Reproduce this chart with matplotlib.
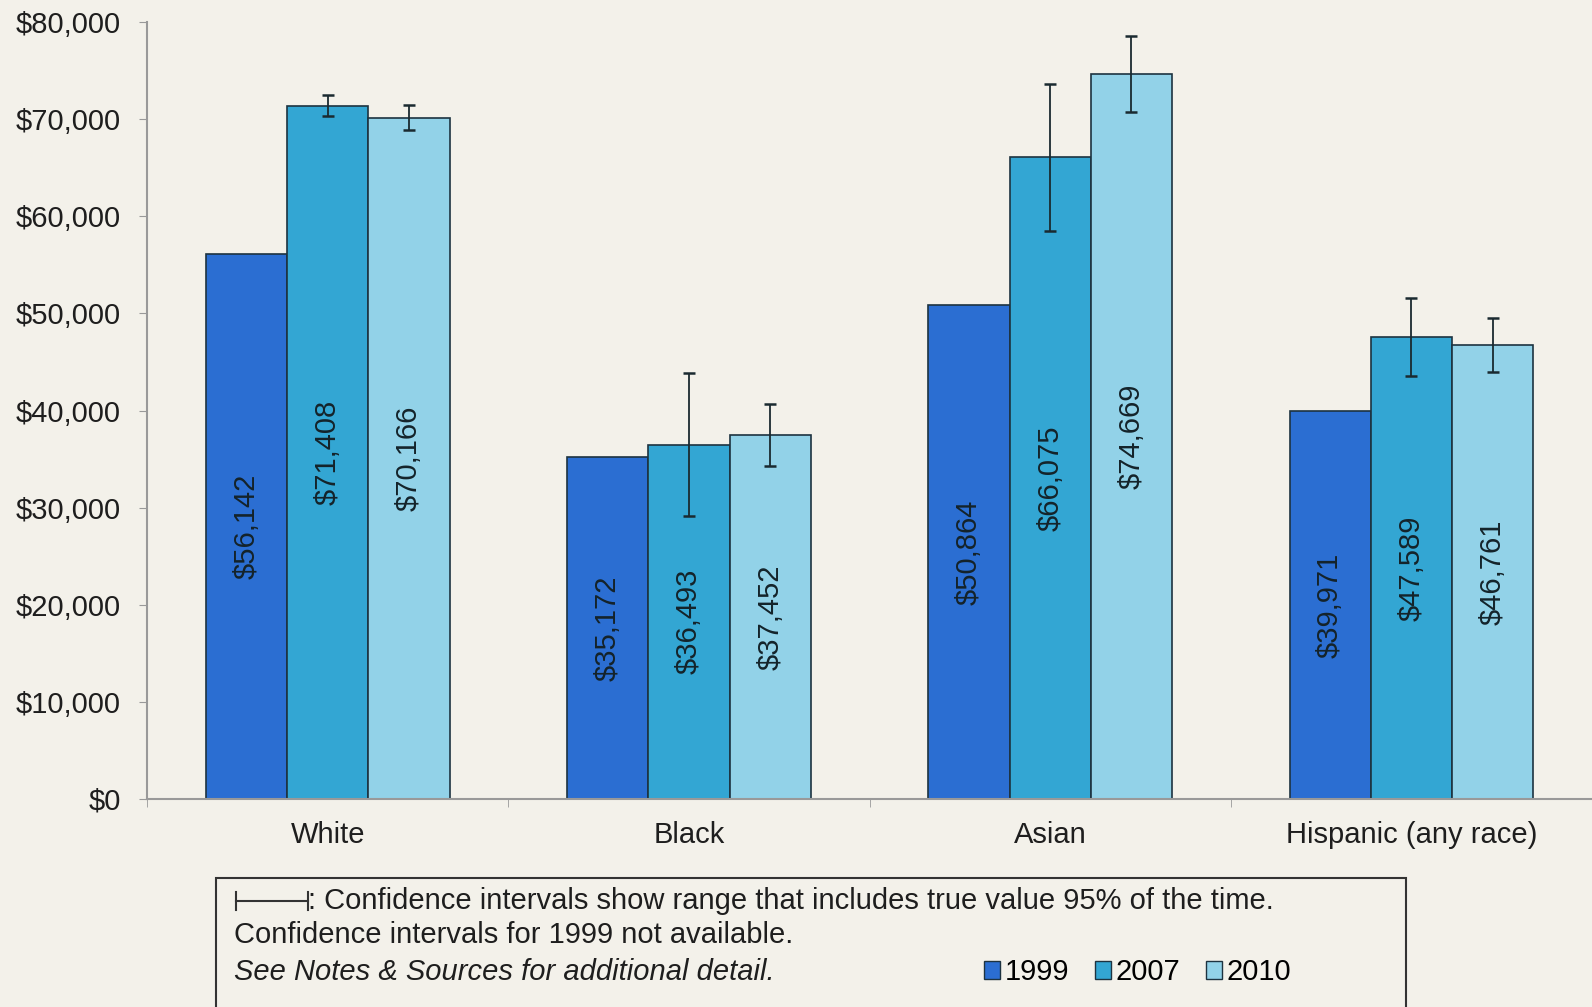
import numpy as np
import matplotlib.pyplot as plt
from matplotlib.patches import Patch, Rectangle
from matplotlib.lines import Line2D

plt.rcParams['font.family'] = ['Liberation Sans', 'DejaVu Sans']

groups = ['White', 'Black', 'Asian', 'Hispanic (any race)']
years = ['1999', '2007', '2010']
income_1999 = [56142, 35172, 50864, 39971]
income_2007 = [71408, 36493, 66075, 47589]
income_2010 = [70166, 37452, 74669, 46761]
ci_2007 = [1100, 7400, 7600, 4000]
ci_2010 = [1300, 3200, 3900, 2800]

bg = '#f3f1ea'
colors = ['#2b6ed2', '#33a6d3', '#92d2e8']
txt = '#1e1e1e'

fig = plt.figure(figsize=(15.92, 10.07), dpi=100, facecolor=bg)
ax = fig.add_axes([0.0925, 0.2066, 0.9075, 0.7714], facecolor=bg)

x = np.arange(len(groups))
w = 0.225
series = [income_1999, income_2007, income_2010]
errs = [None, ci_2007, ci_2010]
for i, (vals, err) in enumerate(zip(series, errs)):
    pos = x + (i - 1) * w
    ax.bar(pos, vals, width=w, color=colors[i], edgecolor='#1d3340', linewidth=1.2)
    if err is not None:
        ax.errorbar(pos, vals, yerr=err, fmt='none', ecolor='#1a2a30',
                    elinewidth=1.3, capsize=4.5, capthick=1.8)
    for p, v in zip(pos, vals):
        ax.text(p, v / 2, f'${v:,}', rotation=90, ha='center', va='center',
                fontsize=21, color='#14232a')

ax.set_xlim(-0.5, len(groups) - 0.5)
ax.set_ylim(0, 80000)
ax.set_yticks(np.arange(0, 80001, 10000))
ax.set_yticklabels([f'${v:,}' for v in range(0, 80001, 10000)], fontsize=21, color=txt)
ax.set_xticks(x)
ax.set_xticklabels(groups, fontsize=21, color=txt)
ax.set_xticks(np.arange(-0.5, len(groups)), minor=True)
ax.tick_params(axis='x', which='major', length=0, pad=16)
ax.tick_params(axis='x', which='minor', length=6, color='#999999')
ax.tick_params(axis='y', length=6, color='#999999', pad=13)
for s in ['top', 'right']:
    ax.spines[s].set_visible(False)
for s in ['left', 'bottom']:
    ax.spines[s].set_color('#999999')
    ax.spines[s].set_linewidth(1.5)

# note box
fig.patches.append(Rectangle((0.1358, -0.01), 0.883 - 0.1358, 0.138,
                             transform=fig.transFigure, facecolor=bg, edgecolor='#333333',
                             linewidth=1.5))
y1 = 0.1052
fig.add_artist(Line2D([0.148, 0.1932], [y1, y1], color='#333333', lw=1.5))
fig.add_artist(Line2D([0.148, 0.148], [y1 - 0.009, y1 + 0.009], color='#333333', lw=1.5))
fig.add_artist(Line2D([0.1932, 0.1932], [y1 - 0.009, y1 + 0.009], color='#333333', lw=1.5))
fig.text(0.1935, y1, ': Confidence intervals show range that includes true value 95% of the time.',
         fontsize=21, va='center', color=txt)
fig.text(0.147, 0.0715, 'Confidence intervals for 1999 not available.',
         fontsize=21, va='center', color=txt)
fig.text(0.147, 0.0343, 'See Notes & Sources for additional detail.',
         fontsize=21, va='center', style='italic', color=txt)

handles = [Patch(facecolor=c, edgecolor='#1d3340', label=yr) for c, yr in zip(colors, years)]
fig.legend(handles=handles, loc='center left', bbox_to_anchor=(0.618, 0.0343),
           ncol=3, frameon=False, fontsize=21, handlelength=0.55, handleheight=0.55,
           handletextpad=0.15, columnspacing=0.9, borderaxespad=0, borderpad=0)

fig.savefig('out.png', dpi=100, facecolor=bg)
